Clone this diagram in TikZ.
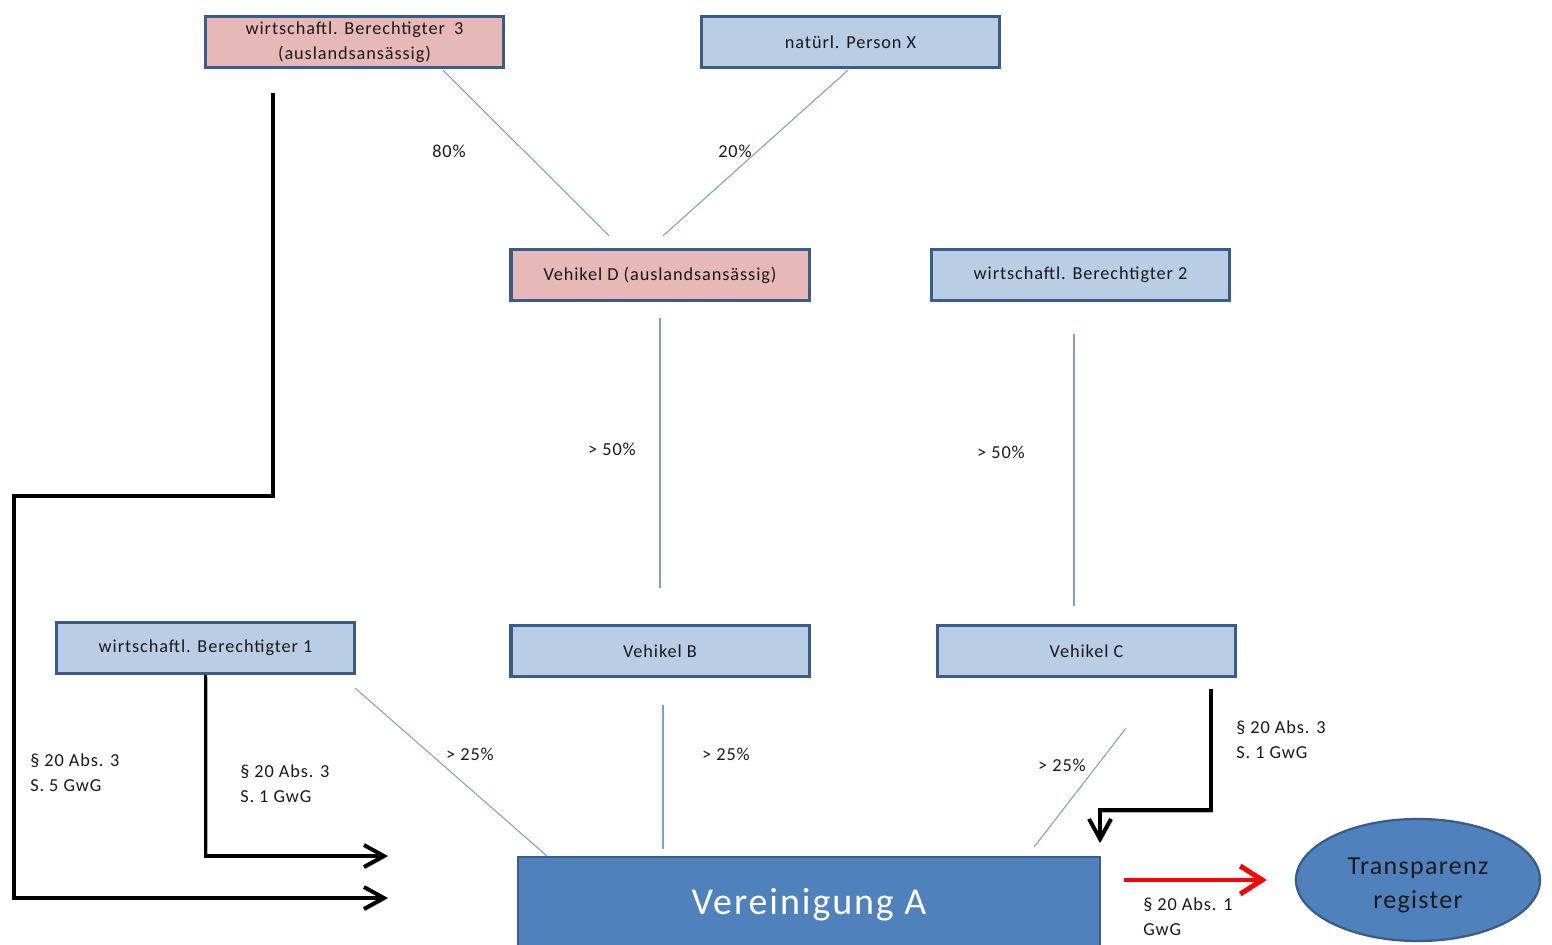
\documentclass[tikz,border=0pt]{standalone}
\usepackage{fontspec}
\setmainfont{Carlito}[LetterSpace=5]
\usetikzlibrary{arrows.meta,positioning,calc,shapes.geometric}
\definecolor{BoxBlue}{HTML}{B9CDE5}
\definecolor{BoxPink}{HTML}{E6B9B8}
\definecolor{Frame}{HTML}{385D8A}
\definecolor{Accent}{HTML}{4F81BD}
\definecolor{ShareLine}{HTML}{7AA0D0}
\definecolor{TextDark}{HTML}{1A1A1A}
\definecolor{ArrowRed}{HTML}{FF0000}
\begin{document}
\begin{tikzpicture}[x=0.025cm,y=-0.025cm,text=TextDark,font=\fontsize{13}{17.8}\selectfont,box/.style={draw=Frame,line width=2.2pt,fill=BoxBlue,minimum width=7.45cm,minimum height=1.28cm,inner sep=2pt,align=center},pinkbox/.style={box,fill=BoxPink},share/.style={draw=ShareLine,line width=0.75pt},pct/.style={inner sep=0pt},law/.style={anchor=west,align=left,inner sep=0pt},legal/.style={draw=black,line width=2.8pt,-{Straight Barb[length=5mm,width=5.5mm]},preaction={draw=black!30,transform canvas={shift={(1.2pt,-1.2pt)}}}}]
\useasboundingbox[fill=white] (0,0) rectangle (1552,945);
\node[pinkbox] (wbIII) at (354.5,42){wirtschaftl. Berechtigter\enspace3\\(auslandsansässig)};
\node[box] (persX) at (850.5,42){natürl. Person X};
\node[pinkbox] (vehD) at (660,275){Vehikel D (auslandsansässig)};
\node[box] (wbII) at (1080.5,275){wirtschaftl. Berechtigter 2};
\node[box] (wbI) at (205.5,648){wirtschaftl. Berechtigter 1};
\node[box] (vehB) at (660,651){Vehikel B};
\node[box] (vehC) at (1086.5,651){Vehikel C};
\node[draw=Frame,line width=1.6pt,fill=Accent,minimum width=14.55cm,minimum height=2.4cm,text=white,font=\fontsize{27}{30}\selectfont] (verA) at (809,905){Vereinigung A};
\node[ellipse,draw=Frame,line width=1.6pt,fill=Accent,minimum width=6.1cm,minimum height=3.05cm,inner sep=0pt,align=center,font=\fontsize{18.5}{23.5}\selectfont] (reg) at (1418,880){\\[-4pt]Transparenz\\register};
\draw[share] ($(wbIII.south)+(88.5,1)$) -- ($(vehD.north)+(-51,-12)$);
\draw[share] ($(persX.south)+(-2.5,1)$) -- ($(vehD.north)+(3,-12)$);
\draw[share] ($(vehD.south)+(0,16)$) -- ($(vehB.north)+(0,-36)$);
\draw[share] ($(wbII.south)+(-6.5,32)$) -- ($(vehC.north)+(-12.5,-18)$);
\draw[share] ($(wbI.south east)+(-1,13)$) -- ($(verA.north west)+(30,0)$);
\draw[share] ($(vehB.south)+(3,27)$) -- ($(vehB.south |- verA.north)+(3,-7)$);
\draw[share] ($(vehC.south)+(39.5,50)$) -- ($(verA.north east)+(-67,-9)$);
\node[pct] (pD3) at (449,151){80\%};
\node[pct] (pDX) at (735,151){20\%};
\node[pct] (pBD) at (612,449){> 50\%};
\node[pct] (pC2) at (1001,452){> 50\%};
\node[pct] (pA1) at (470,754){> 25\%};
\node[pct] (pAB) at (726,754){> 25\%};
\node[pct] (pAC) at (1062,765){> 25\%};
\coordinate (inS5) at (388,898);
\coordinate (inS1) at (388,856);
\coordinate (inC) at (1100,843);
\draw[legal] ($(wbIII.south)+(-81.5,24)$) |- (14,496) |- (inS5);
\draw[legal] (wbI.south) |- (inS1);
\draw[legal] ($(vehC.south)+(124.5,11)$) -- ++(0,121) -| (inC);
\draw[draw=ArrowRed,line width=3.5pt,-{Straight Barb[length=5.5mm,width=7mm]},shorten <=0.575cm,shorten >=0.7cm] (verA.east |- reg.west) -- (reg.west);
\node[law] (rS5) at (30,772.5){§ 20 Abs. 3\\S. 5 GwG};
\node[law] (rS1) at (240,783.5){§ 20 Abs. 3\\S. 1 GwG};
\node[law] (rC) at (1236,739.5){§ 20 Abs. 3\\S. 1 GwG};
\node[law] (rA) at (1143,916.5){§ 20 Abs. 1\\GwG};
\end{tikzpicture}
\end{document}
